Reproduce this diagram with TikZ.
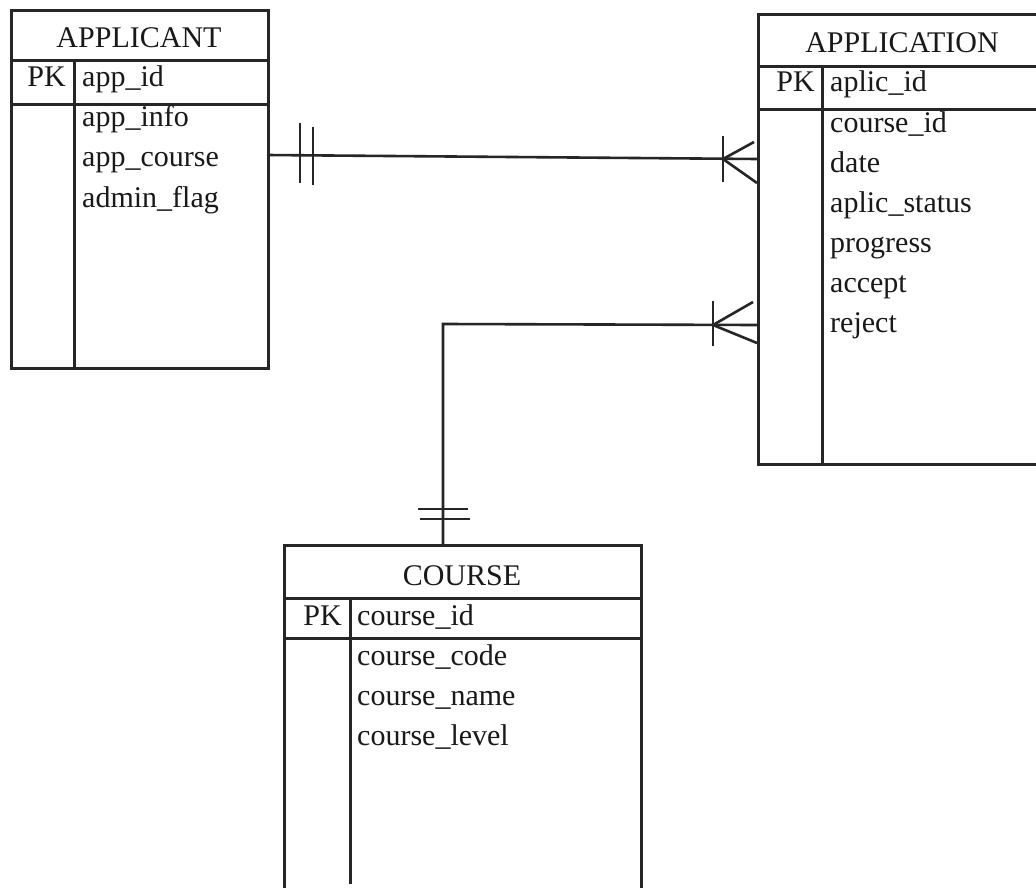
\documentclass[tikz,border=0pt]{standalone}
\usepackage{fontspec}
\setmainfont{Liberation Serif}
\begin{document}
\begin{tikzpicture}[x=1pt,y=-1pt,
  tbl/.style={draw=black!85,line width=3pt,rectangle,inner sep=0pt,anchor=north west},
  rule/.style={draw=black!85,line width=3pt},
  conn/.style={draw=black!85,line width=2.6pt},
  txt/.style={inner sep=0pt,text=black!90,font=\fontsize{30}{34}\selectfont},
  ttl/.style={txt,anchor=base},
  pk/.style={txt,anchor=base east},
  fld/.style={txt,anchor=base west}]
\clip (0,0) rectangle (1036,888);
\fill[white] (0,0) rectangle (1036,888);
% APPLICANT
\node[tbl,minimum width=257pt,minimum height=358pt] (applicant) at (10,9) {};
\draw[rule] (10,61) -- (267,61);
\draw[rule] (10,105) -- (267,105);
\draw[rule] (74,61) -- (74,367);
\node[ttl] (t1) at (139,48) {APPLICANT};
\node[pk] (pk1) at (66,87) {PK};
\node[fld] (a1) at (82,87) {app\_id};
\node[fld] (a2) at (82,127) {app\_info};
\node[fld] (a3) at (82,167) {app\_course};
\node[fld] (a4) at (82,207) {admin\_flag};
% APPLICATION
\node[tbl,minimum width=290pt,minimum height=450pt] (application) at (757,13) {};
\draw[rule] (757,67) -- (1047,67);
\draw[rule] (757,110) -- (1047,110);
\draw[rule] (822,67) -- (822,463);
\node[ttl] (t2) at (902,53) {APPLICATION};
\node[pk] (pk2) at (815,92) {PK};
\node[fld] (b1) at (830,92) {aplic\_id};
\node[fld] (b2) at (830,132) {course\_id};
\node[fld] (b3) at (830,172) {date};
\node[fld] (b4) at (830,212) {aplic\_status};
\node[fld] (b5) at (830,252) {progress};
\node[fld] (b6) at (830,292) {accept};
\node[fld] (b7) at (830,332) {reject};
% COURSE
\node[tbl,minimum width=357pt,minimum height=360pt] (course) at (283,544) {};
\draw[rule] (283,598) -- (640,598);
\draw[rule] (283,638) -- (640,638);
\draw[rule] (350,598) -- (350,884);
\node[ttl] (t3) at (462,585) {COURSE};
\node[pk] (pk3) at (342,625) {PK};
\node[fld] (c1) at (357,625) {course\_id};
\node[fld] (c2) at (357,665) {course\_code};
\node[fld] (c3) at (357,705) {course\_name};
\node[fld] (c4) at (357,745) {course\_level};
% connector 1: APPLICANT -- APPLICATION
\coordinate (r1s) at (267,155);
\coordinate (r1e) at (757,159);
\draw[conn] (r1s) -- (r1e);
\draw[conn] (300,123) -- (300,183);
\draw[conn] (313,127) -- (313,185);
\draw[conn] (723,136) -- (723,182);
\draw[conn] (754,142) -- (723,159) -- (757,183);
% connector 2: COURSE -- APPLICATION
\coordinate (r2s) at (443,544);
\coordinate (r2m) at (443,324);
\coordinate (r2e) at (757,325);
\draw[conn] (r2s) -- (r2m) -- (r2e);
\draw[conn] (713,301) -- (713,346);
\draw[conn] (753,302) -- (713,325) -- (757,343);
\draw[conn] (418,509) -- (468,509);
\draw[conn] (420,519) -- (470,519);
\end{tikzpicture}
\end{document}
